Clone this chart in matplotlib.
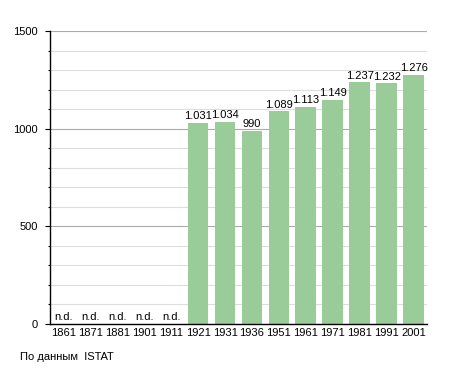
import numpy as np
import matplotlib
matplotlib.use("Agg")
import matplotlib.pyplot as plt
from matplotlib.ticker import MultipleLocator

years = ["1861", "1871", "1881", "1901", "1911", "1921", "1931",
         "1936", "1951", "1961", "1971", "1981", "1991", "2001"]
population = [None, None, None, None, None, 1031, 1034,
              990, 1089, 1113, 1149, 1237, 1232, 1276]
value_labels = ["n.d.", "n.d.", "n.d.", "n.d.", "n.d.", "1.031", "1.034",
                "990", "1.089", "1.113", "1.149", "1.237", "1.232", "1.276"]
y_max = 1500
source = "По данным  ISTAT"

_BAR = "#99cc99"
_MAJOR = "#aaaaaa"
_MINOR = "#dddddd"
_FS = 8

plt.rcParams["font.family"] = ["Liberation Sans", "DejaVu Sans"]

fig = plt.figure(figsize=(4.55, 3.73), dpi=100)
ax = fig.add_axes([50 / 455, 49 / 373, 377 / 455, 293 / 373])

x = np.arange(len(years))
heights = [0 if v is None else v for v in population]
ax.bar(x, heights, width=0.77, color=_BAR, zorder=3)

for xi, v, lab in zip(x, population, value_labels):
    y = 0 if v is None else v
    ax.text(xi, y + 8, lab, ha="center", va="bottom", fontsize=_FS, zorder=4)

ax.set_xlim(-0.5, len(years) - 0.5)
ax.set_ylim(0, y_max)
ax.set_xticks(x)
ax.set_xticklabels(years, fontsize=_FS)
ax.yaxis.set_major_locator(MultipleLocator(500))
ax.yaxis.set_minor_locator(MultipleLocator(100))
ax.tick_params(axis="y", which="major", length=3.6, width=0.8, labelsize=_FS, pad=5)
ax.tick_params(axis="y", which="minor", length=1.5, width=0.8)
ax.tick_params(axis="x", length=0, pad=3)

ax.grid(True, axis="y", which="minor", color=_MINOR, linewidth=0.8, zorder=0)
ax.grid(True, axis="y", which="major", color=_MAJOR, linewidth=0.8, zorder=0)

for s in ("top", "right"):
    ax.spines[s].set_visible(False)
ax.spines["left"].set_linewidth(1.0)
ax.spines["bottom"].set_linewidth(1.0)
ax.spines["left"].set_zorder(5)
ax.spines["bottom"].set_zorder(5)

fig.text(20 / 455, 1 - 357 / 373, source, fontsize=_FS, va="center", ha="left")

fig.savefig("out.png", dpi=100)
